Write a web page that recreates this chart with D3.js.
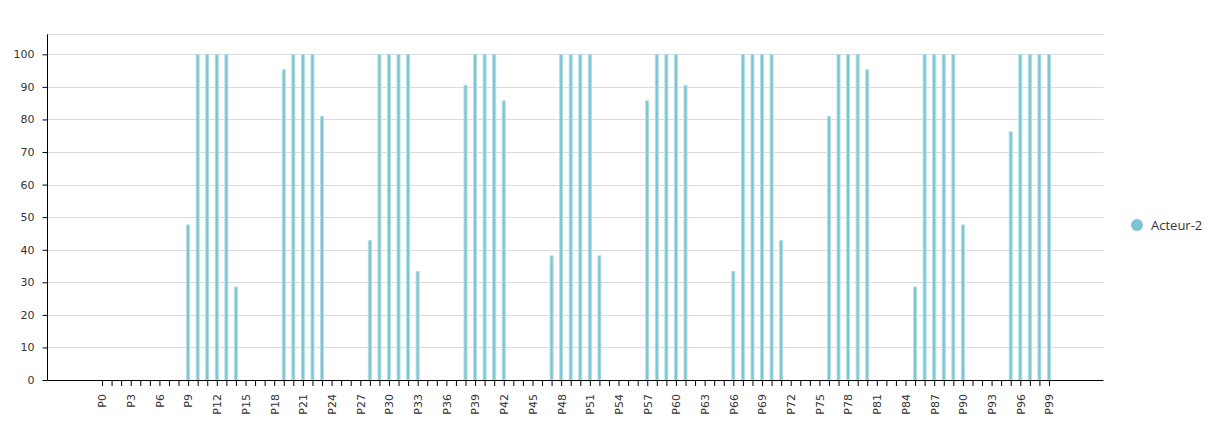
<!DOCTYPE html>
<html>
<head>
<meta charset="utf-8">
<script src="https://cdn.jsdelivr.net/npm/d3@7"></script>
<style>
  html, body { margin: 0; padding: 0; background: #fff; }
  svg { display: block; }
</style>
</head>
<body>
<svg id="chart" width="1216" height="424"></svg>
<script>
// ---- data ----
const categories = d3.range(100).map(i => "P" + i);
const seriesName = "Acteur-2";
const values = [
  0,0,0,0,0,0,0,0,0,47.62,
  100,100,100,100,28.57,0,0,0,0,95.24,
  100,100,100,80.95,0,0,0,0,42.86,100,
  100,100,100,33.33,0,0,0,0,90.48,100,
  100,100,85.71,0,0,0,0,38.10,100,100,
  100,100,38.10,0,0,0,0,85.71,100,100,
  100,90.48,0,0,0,0,33.33,100,100,100,
  100,42.86,0,0,0,0,80.95,100,100,100,
  95.24,0,0,0,0,28.57,100,100,100,100,
  47.62,0,0,0,0,76.19,100,100,100,100
];
const yTicks = [0,10,20,30,40,50,60,70,80,90,100];
const xLabelEvery = 3;

// ---- layout ----
const svg = d3.select("#chart");
const left = 47.5, right = 1103.5, bottom = 380, top100 = 54.3, frameTop = 34.3;

const x = d3.scalePoint().domain(categories).range([left, right]).padding(5.7);
const y = d3.scaleLinear().domain([0, 100]).range([bottom, top100]);

// gridlines
const grid = svg.append("g");
grid.selectAll("line.g").data(yTicks.filter(d => d > 0)).join("line")
  .attr("x1", left).attr("x2", right)
  .attr("y1", d => Math.round(y(d)) + 0.5).attr("y2", d => Math.round(y(d)) + 0.5)
  .attr("stroke", "#dcdcdc").attr("stroke-width", 1);
grid.append("line")
  .attr("x1", left).attr("x2", right)
  .attr("y1", Math.round(frameTop) + 0.5).attr("y2", Math.round(frameTop) + 0.5)
  .attr("stroke", "#dcdcdc").attr("stroke-width", 1);

// bars
svg.append("g").selectAll("rect").data(categories.map((c, i) => ({c, v: values[i]})).filter(d => d.v > 0))
  .join("rect")
  .attr("x", d => x(d.c) - 1.5)
  .attr("width", 3)
  .attr("y", d => y(d.v))
  .attr("height", d => bottom - y(d.v))
  .attr("fill", "#7cc5d0")
  .attr("stroke", "#b2dfe6")
  .attr("stroke-width", 1);

// y axis
const yAxis = svg.append("g")
  .attr("transform", `translate(${left},0)`)
  .call(d3.axisLeft(y).tickValues(yTicks).tickSize(5).tickPadding(8).tickSizeOuter(0));
yAxis.select(".domain").remove();
yAxis.append("line").attr("x1", 0).attr("x2", 0).attr("y1", frameTop).attr("y2", bottom)
  .attr("stroke", "#000");
yAxis.selectAll("text").attr("font-family", "DejaVu Sans, Verdana, sans-serif")
  .attr("font-size", 11).attr("fill", "#333");

// x axis
const xAxis = svg.append("g")
  .attr("transform", `translate(0,${bottom})`)
  .call(d3.axisBottom(x).tickSize(6).tickSizeOuter(0)
    .tickFormat((d, i) => i % xLabelEvery === 0 ? d : ""));
xAxis.select(".domain").attr("d", `M${left},0.5H${right}`).attr("stroke", "#000");
xAxis.selectAll(".tick line").attr("stroke", "#000");
xAxis.selectAll("text")
  .attr("font-family", "DejaVu Sans, Verdana, sans-serif")
  .attr("font-size", 11).attr("fill", "#333")
  .attr("transform", "rotate(-90)")
  .attr("text-anchor", "end")
  .attr("x", -14).attr("y", 0).attr("dy", "0.35em");

// legend
const lg = svg.append("g").attr("transform", "translate(1137,225)");
lg.append("circle").attr("r", 6).attr("fill", "#7cc5d0");
lg.append("text").attr("x", 14).attr("y", 0).attr("dy", "0.35em")
  .attr("font-family", "Open Sans, sans-serif").attr("font-size", 13).attr("fill", "#333")
  .text(seriesName);
</script>
</body>
</html>
